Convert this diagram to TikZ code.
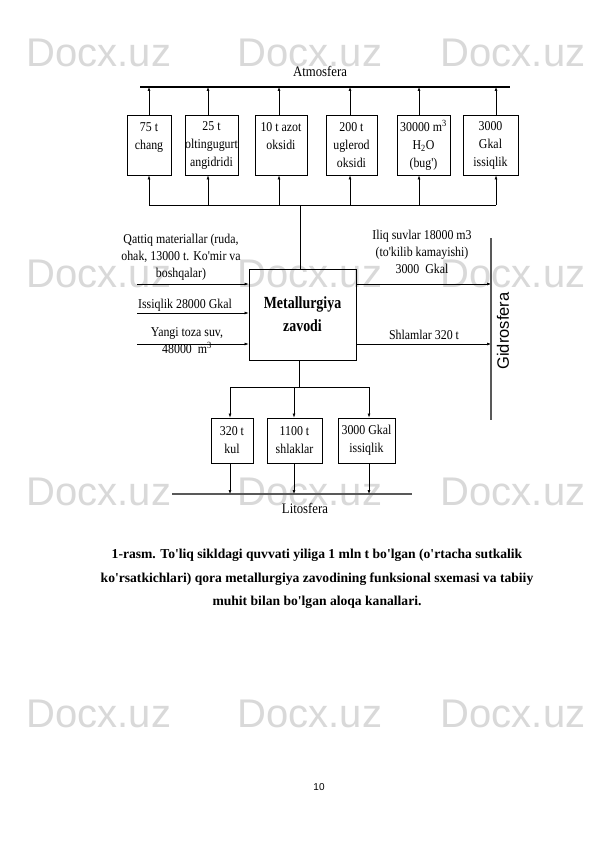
\documentclass[tikz,border=0pt]{standalone}
\usepackage{fontspec}
\setmainfont{Liberation Serif}
\newfontfamily\cf[FakeStretch=0.88]{Liberation Serif}
\newfontfamily\cfb[FakeStretch=0.82]{Liberation Serif}
\newfontfamily\capf[Ligatures=TeXOff]{Liberation Serif}
\newfontfamily\sfw{Liberation Sans}
\usetikzlibrary{arrows.meta}
\tikzset{
  box/.style={draw, line width=0.9pt, inner sep=0pt, align=center,
    font=\cf\fontsize{13.5}{18}\selectfont},
  lbl/.style={inner sep=0pt, align=center, font=\cf\fontsize{13.5}{17}\selectfont},
  arr/.style={-{Latex[length=4pt,width=3pt]}, line width=0.6pt},
  ln/.style={line width=0.6pt},
  gl/.style={line width=1.1pt, black!65},
  wm/.style={inner sep=0pt, font=\sfw\fontsize{40}{40}\selectfont, text=black!15},
}
\begin{document}
\begin{tikzpicture}[x=1pt,y=-1pt]
\useasboundingbox[fill=white] (0,0) rectangle (595,842);
% watermark
\foreach \r/\yy in {1/53,2/274,3/492,4/714}{
  \foreach \c/\xx in {1/99,2/310,3/513}{
    \node[wm] (wm\r\c) at (\xx,\yy) {Docx.uz};
  }
}
% Atmosfera
\node[lbl, font=\cf\fontsize{14.5}{17}\selectfont] (atm) at (320,71) {Atmosfera};
\coordinate (atmL) at (140,87);
\coordinate (atmR) at (510,87);
\draw[line width=1.5pt] (atmL) -- (atmR);
% top boxes
\node[box, minimum width=44pt, minimum height=60pt] (b1) at (149,145) {75 t\\chang\\\mbox{}};
\node[box, minimum width=53pt, minimum height=60pt] (b2) at (211.5,145) {25 t\\oltingugurt\\angidridi};
\node[box, minimum width=52pt, minimum height=60pt] (b3) at (281,145) {10 t azot\\oksidi\\\mbox{}};
\node[box, minimum width=51pt, minimum height=60pt] (b4) at (351.5,145) {200 t\\uglerod\\oksidi};
\node[box, minimum width=53pt, minimum height=60pt] (b5) at (423.5,145) {30000 m\textsuperscript{3}\\H\textsubscript{2}O\\(bug')};
\node[box, minimum width=55pt, minimum height=60pt] (b6) at (490.5,145) {3000\\Gkal\\issiqlik};
\foreach \i/\xx in {1/149,2/208,3/279,4/350,5/419,6/496}{
  \coordinate (ta\i) at (\xx,87);
  \coordinate (da\i) at (\xx,205);
  \draw[arr] (b\i.north -| ta\i) -- (ta\i);
  \draw[arr] (da\i) -- (b\i.south -| da\i);
}
\draw[ln] (da1) -- (da6);
\coordinate (d0) at (300,205);
% factory
\node[box, minimum width=107pt, minimum height=91pt,
  font=\cfb\bfseries\fontsize{17}{23}\selectfont] (fac) at (302.5,314.5) {Metallurgiya\\zavodi};
\draw[ln] (fac.north -| d0) -- (d0);
% inputs
\coordinate (in1) at (137,284);
\coordinate (in2) at (137,313);
\coordinate (in3) at (137,344);
\draw[arr] (in1) -- (fac.west |- in1);
\draw[arr] (in2) -- (fac.west |- in2);
\draw[arr] (in3) -- (fac.west |- in3);
\node[lbl] (lq) at (181,257) {Qattiq materiallar (ruda,\\ohak, 13000 t. Ko'mir va\\boshqalar)};
\node[lbl] (li) at (185,305) {Issiqlik 28000 Gkal};
\node[lbl] (ly) at (187,340.5) {Yangi toza suv,\\48000 \ m\textsuperscript{3}};
% outputs
\coordinate (g1) at (491,284);
\coordinate (g2) at (491,344);
\draw[arr] (fac.east |- g1) -- (g1);
\draw[arr] (fac.east |- g2) -- (g2);
\node[lbl] (lr) at (422,252) {Iliq suvlar 18000 m3\\(to'kilib kamayishi)\\3000 \ Gkal};
\node[lbl] (ls) at (424,335) {Shlamlar 320 t};
\coordinate (gT) at (491,238);
\coordinate (gB) at (491,420);
\draw[gl] (gT) -- (gB);
\node[inner sep=0pt, rotate=90, font=\sfw\fontsize{16.5}{16}\selectfont] (gid) at (503,331) {Gidrosfera};
% bottom
\coordinate (e0) at (299,387);
\coordinate (e1) at (230,387);
\coordinate (e2) at (294,387);
\coordinate (e3) at (369,387);
\draw[ln] (fac.south -| e0) -- (e0);
\draw[ln] (e1) -- (e3);
\node[box, minimum width=42pt, minimum height=45pt] (k1) at (232,440.5) {320 t\\kul};
\node[box, minimum width=55pt, minimum height=45pt] (k2) at (294.5,440.5) {1100 t\\shlaklar};
\node[box, minimum width=57pt, minimum height=45pt] (k3) at (366.5,440.5) {3000 Gkal\\issiqlik};
\coordinate (lL) at (172,494);
\coordinate (lR) at (412,494);
\draw[gl] (lL) -- (lR);
\foreach \i/\xx in {1/230,2/294,3/369}{
  \coordinate (l\i) at (\xx,494);
  \draw[arr] (e\i) -- (k\i.north -| e\i);
  \draw[arr] (k\i.south -| l\i) -- (l\i);
}
\node[lbl, font=\cf\fontsize{14.5}{17}\selectfont] (lit) at (305,508) {Litosfera};
% caption
\node[inner sep=0pt, align=center, font=\capf\bfseries\fontsize{13.6}{23.5}\selectfont] (cap) at (317,579)
  {1-rasm. To'liq sikldagi quvvati yiliga 1 mln t bo'lgan (o'rtacha sutkalik\\
   ko'rsatkichlari) qora metallurgiya zavodining funksional sxemasi va tabiiy\\
   muhit bilan bo'lgan aloqa kanallari.};
\node[inner sep=0pt, font=\sfw\fontsize{10}{12}\selectfont] (pg) at (319,787) {10};
\end{tikzpicture}
\end{document}
